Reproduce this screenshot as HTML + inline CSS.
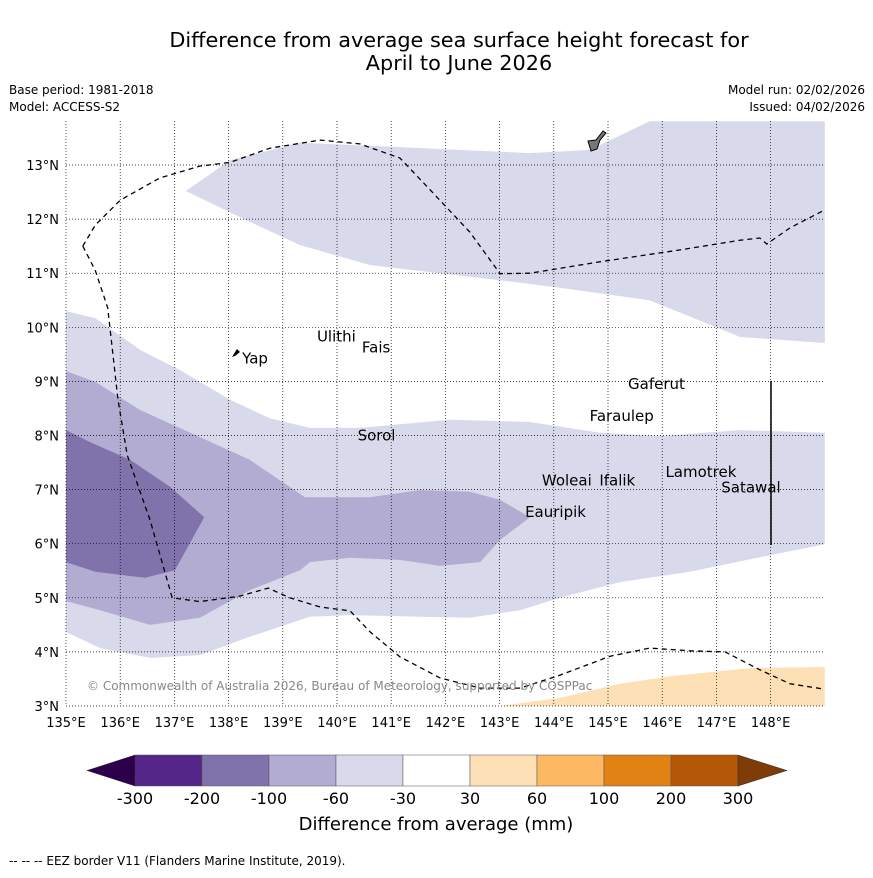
<!DOCTYPE html>
<html><head><meta charset="utf-8"><style>
body{margin:0;background:#fff;font-family:"Liberation Sans","DejaVu Sans",sans-serif}
svg text{font-family:"DejaVu Sans","Liberation Sans",sans-serif}
</style></head><body>
<svg id="c" width="873" height="873" viewBox="0 0 873 873">
<rect width="873" height="873" fill="#fff"/>
<text x="459" y="47" font-size="20.8" text-anchor="middle">Difference from average sea surface height forecast for</text>
<text x="459" y="70" font-size="20.8" text-anchor="middle">April to June 2026</text>
<text x="9" y="94" font-size="12">Base period: 1981-2018</text>
<text x="9" y="111" font-size="12">Model: ACCESS-S2</text>
<text x="865" y="94" font-size="12" text-anchor="end">Model run: 02/02/2026</text>
<text x="865" y="111" font-size="12" text-anchor="end">Issued: 04/02/2026</text>
<defs><clipPath id="mc"><rect x="66" y="121" width="759" height="585"/></clipPath></defs>
<g id="map" clip-path="url(#mc)"></g>
<g id="grid"></g>
<g id="labels"></g>
<text x="87" y="690" font-size="12" fill="#888">© Commonwealth of Australia 2026, Bureau of Meteorology, supported by COSPPac</text>
<g id="cbar"></g>
<text x="436" y="830" font-size="18" text-anchor="middle">Difference from average (mm)</text>
<text x="9" y="865" font-size="12">-- -- -- EEZ border V11 (Flanders Marine Institute, 2019).</text>
</svg>
<script>
const lonTicks=[135,136,137,138,139,140,141,142,143,144,145,146,147,148];
const latTicks=[3,4,5,6,7,8,9,10,11,12,13];
const bandNorthLight=[[137.21,12.52],[138.03,13.09],[139.32,13.41],[141.16,13.33],[143.56,13.22],[144.67,13.28],[145.77,13.81],[149,13.81],[149,9.71],[147.44,9.82],[145.77,10.5],[144.11,10.73],[143.01,10.87],[140.61,11.15],[139.32,11.52],[138.39,11.95]];
const bandLight=[[135,10.3],[135.54,10.17],[136.37,9.58],[137.1,9.21],[138.03,8.66],[138.76,8.32],[139.5,8.14],[140.42,8.14],[142.08,8.29],[143.56,8.25],[144.85,8.05],[145.96,7.99],[147.44,8.1],[149,8.05],[149,5.99],[148,5.79],[146.51,5.48],[145.22,5.29],[144.11,5.0],[143.38,4.77],[142.45,4.63],[141.53,4.65],[140.24,4.68],[139.5,4.65],[138.39,4.28],[137.47,3.94],[136.55,3.89],[135.63,4.07],[135,4.37]];
const bandMid=[[135,9.19],[135.54,8.99],[136.37,8.47],[137.47,7.97],[138.39,7.55],[139.41,6.86],[140.61,6.86],[141.53,6.99],[142.45,6.96],[143.01,6.81],[143.56,6.49],[143.01,6.07],[142.64,5.66],[141.9,5.59],[141.16,5.7],[140.24,5.74],[139.5,5.66],[139.32,5.51],[138.39,5.14],[137.47,4.63],[136.55,4.5],[135.63,4.77],[135,4.94]];
const bandDark=[[135,8.1],[135.44,7.88],[136.18,7.55],[136.92,7.05],[137.55,6.49],[137.01,5.51],[136.46,5.37],[135.54,5.48],[135,5.66]];
const bandOrange=[[143.01,3.0],[144.11,3.15],[145.22,3.41],[146.14,3.55],[147.62,3.7],[149,3.72],[149,3.0]];
const eezLower=[[135.31,11.5],[135.54,11.05],[135.77,10.36],[135.96,8.66],[136.13,7.64],[136.55,6.44],[136.96,5.0],[137.47,4.93],[138.2,5.03],[138.73,5.18],[139.13,5.0],[139.69,4.83],[140.24,4.76],[140.61,4.37],[141.16,3.91],[141.9,3.52],[142.64,3.33],[143.38,3.33],[144.11,3.57],[145.04,3.92],[145.77,4.07],[146.51,4.02],[147.16,4.0],[147.8,3.67],[148.36,3.41],[149,3.31]];
const eezUpper=[[135.31,11.5],[135.54,11.89],[136,12.35],[136.73,12.76],[137.47,12.98],[138.03,13.05],[138.76,13.31],[139.69,13.46],[140.42,13.39],[141.16,13.13],[141.72,12.54],[142.45,11.76],[143.01,10.99],[143.56,11.0],[144.85,11.21],[146.33,11.43],[147.44,11.61],[147.8,11.65],[147.93,11.54],[148.36,11.84],[149,12.17]];
const places=["Ulithi","Fais","Yap","Gaferut","Faraulep","Sorol","Woleai","Ifalik","Lamotrek","Satawal","Eauripik"];
const placeLon=[139.63,140.46,138.25,145.37,144.66,140.38,143.78,144.84,146.06,147.09,143.47];
const placeLat=[9.74,9.53,9.33,8.86,8.27,7.91,7.08,7.08,7.23,6.95,6.49];
const cbLabels=["-300","-200","-100","-60","-30","30","60","100","200","300"];
const cbColors=["#542788","#8073ac","#b2abd2","#d8daeb","#ffffff","#fee0b6","#fdb863","#e08214","#b35806"];
const NS="http://www.w3.org/2000/svg";
const X=lon=>66+(lon-135)*54.2, Y=lat=>706-(lat-3)*54.1;
function mk(t,a,p){const e=document.createElementNS(NS,t);for(const k in a)e.setAttribute(k,a[k]);p.appendChild(e);return e;}
const map=document.getElementById('map');
const pts=arr=>arr.map(p=>X(p[0]).toFixed(1)+','+Y(p[1]).toFixed(1)).join(' ');
[[bandNorthLight,"#d8daeb","band-north"],[bandLight,"#d8daeb","band-minus30-60"],[bandMid,"#b2abd2","band-minus60-100"],[bandDark,"#8073ac","band-minus100-200"],[bandOrange,"#fee0b6","band-plus30-60"]].forEach(b=>{
 const e=mk('polygon',{points:pts(b[0]),fill:b[1]},map);
 
 
});
[[eezLower,"eez-border-south"],[eezUpper,"eez-border-north"]].forEach(b=>{
 const e=mk('polyline',{points:pts(b[0]),fill:'none',stroke:'#000','stroke-width':1.3,'stroke-dasharray':'5,4'},map);
 
 
});
const guam=mk('path',{d:'M588,141 L596,140 L603,131 L606,133 L600,140 L597,149 L591,151 Z',fill:'#777',stroke:'#000','stroke-width':1},map);


const yap=mk('path',{d:'M232,357 L237,349 L240,352 L235,356 Z',fill:'#000'},map);


const g=document.getElementById('grid');
lonTicks.forEach(l=>{
 const ln=mk('line',{x1:X(l),x2:X(l),y1:121,y2:706,stroke:'#000','stroke-width':0.7,'stroke-dasharray':'1,2'},g);
 
 
 const t=mk('text',{x:X(l),y:727,'font-size':13,'text-anchor':'middle'},g);t.textContent=l+'°E';
 
 
});
latTicks.forEach(l=>{
 const ln=mk('line',{x1:66,x2:825,y1:Y(l),y2:Y(l),stroke:'#000','stroke-width':0.7,'stroke-dasharray':'1,2'},g);
 
 
 const t=mk('text',{x:59,y:Y(l)+5,'font-size':13,'text-anchor':'end'},g);t.textContent=l+'°N';
 
 
});
const vl=mk('line',{x1:771,x2:771,y1:381,y2:545,stroke:'#000','stroke-width':1.5},g);


const lb=document.getElementById('labels');
places.forEach((p,i)=>{
 const t=mk('text',{x:X(placeLon[i]),y:Y(placeLat[i]),'font-size':15},lb);t.textContent=p;
 
 
});
const cb=document.getElementById('cbar');
const cx0=135,cw=67,cy=755,ch=31;
cbColors.forEach((c,i)=>{
 const r=mk('rect',{x:cx0+i*cw,y:cy,width:cw,height:ch,fill:c,stroke:'#555','stroke-width':0.5},cb);
 
 
});
const tl=mk('polygon',{points:`${cx0},${cy} 87,${cy+ch/2} ${cx0},${cy+ch}`,fill:'#2d004b',stroke:'#333','stroke-width':0.5},cb);


const xe=cx0+cbColors.length*cw;
const tr=mk('polygon',{points:`${xe},${cy} 787,${cy+ch/2} ${xe},${cy+ch}`,fill:'#7f3b08',stroke:'#333','stroke-width':0.5},cb);


cbLabels.forEach((s,i)=>{
 const t=mk('text',{x:cx0+i*cw,y:804,'font-size':16,'text-anchor':'middle'},cb);t.textContent=s;
 
 
});
</script>
</body></html>
